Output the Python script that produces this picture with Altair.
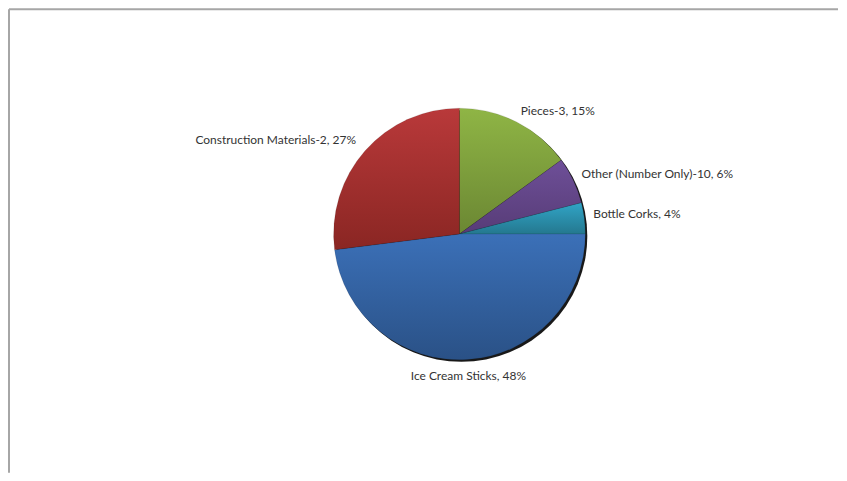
import altair as alt
import pandas as pd

categories = ["Pieces-3", "Other (Number Only)-10", "Bottle Corks",
              "Ice Cream Sticks", "Construction Materials-2"]
percents = [15, 6, 4, 48, 27]
order = [0, 1, 2, 3, 4]
sides = ["right", "right", "right", "bottom", "left"]
top_colors = ["#8FB545", "#6E4F98", "#31A4C6", "#3B70B8", "#B9393A"]
bottom_colors = ["#6B8733", "#573C77", "#24788F", "#2A5186", "#8A2623"]

df = pd.DataFrame({
    "category": categories,
    "pct": percents,
    "order": order,
    "side": sides,
    "label": [f"{c}, {p}%" for c, p in zip(categories, percents)],
})

W, H = 830, 464
CX, CY = 451, 225
R = 126

theta_scale = alt.Scale(domain=[0, 100])

base = alt.Chart(df).transform_window(
    cum="sum(pct)", sort=[alt.SortField("order")], frame=[None, 0]
).transform_calculate(
    start="datum.cum - datum.pct",
    mid="datum.cum - datum.pct / 2",
)

# shadow
shadow = alt.Chart(pd.DataFrame({"a": [0], "b": [100]})).mark_arc(
    fill="#000000", opacity=0.9
).encode(
    theta=alt.Theta("a:Q", scale=theta_scale, stack=None),
    theta2="b:Q",
    radius=alt.value(R),
    x=alt.value(CX + 2),
    y=alt.value(CY + 2),
)

layers = [shadow]
for cat, tc, bc in zip(categories, top_colors, bottom_colors):
    grad = alt.Gradient(
        gradient="linear",
        stops=[alt.GradientStop(color=tc, offset=0),
               alt.GradientStop(color=bc, offset=1)],
        x1=0, x2=0, y1=0, y2=1,
    )
    layers.append(
        base.transform_filter(alt.datum.category == cat).mark_arc(
            fill=grad, stroke="#00000033", strokeWidth=0.5
        ).encode(
            theta=alt.Theta("start:Q", scale=theta_scale, stack=None),
            theta2="end_:Q",
            radius=alt.value(R),
            x=alt.value(CX),
            y=alt.value(CY),
        ).transform_calculate(end_="datum.cum")
    )

text_style = dict(font="Lato", fontSize=12, color="#333333", baseline="middle")
for side, align, rad, dy in [("right", "left", 135, -3), ("bottom", "center", 142, 0), ("left", "right", 138, -3)]:
    layers.append(
        base.transform_filter(alt.datum.side == side).mark_text(align=align, dy=dy, **text_style).encode(
            theta=alt.Theta("mid:Q", scale=theta_scale, stack=None),
            radius=alt.value(rad),
            x=alt.value(CX),
            y=alt.value(CY),
            text="label:N",
        )
    )

# frame lines (top and left)
top_line = alt.Chart(pd.DataFrame({"a": [0]})).mark_rule(color="#A6A6A6", strokeWidth=2).encode(
    x=alt.value(0), x2=alt.value(W), y=alt.value(0)
)
left_line = alt.Chart(pd.DataFrame({"a": [0]})).mark_rule(color="#A6A6A6", strokeWidth=2).encode(
    x=alt.value(0), y=alt.value(0), y2=alt.value(H)
)
layers += [top_line, left_line]

chart = alt.layer(*layers).properties(
    width=W, height=H, padding=0, background="white"
).configure_view(stroke=None)

chart.save("out.html", embed_options={"renderer": "svg", "actions": False})
